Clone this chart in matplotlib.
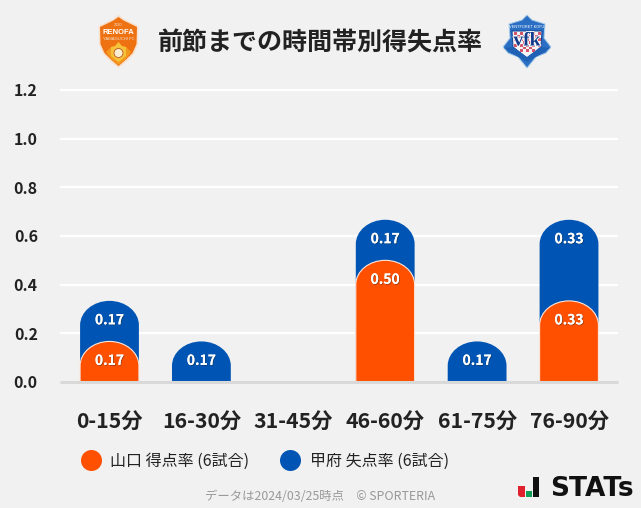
import matplotlib
matplotlib.use("Agg")
import matplotlib.pyplot as plt
import matplotlib.patheffects as pe
from matplotlib.patches import Circle, PathPatch, Polygon, Rectangle
from matplotlib.path import Path

plt.rcParams["font.family"] = ["Noto Sans CJK JP", "DejaVu Sans"]

BG = "#f1f1f1"
ORANGE = "#ff5000"
BLUE = "#0055b4"
DARK = "#222222"

CATEGORIES = ["0-15分", "16-30分", "31-45分", "46-60分", "61-75分", "76-90分"]
SCORED = [0.1667, 0, 0, 0.5, 0, 0.3333]
CONCEDED = [0.1667, 0.1667, 0, 0.1667, 0.1667, 0.3333]
Y_TICKS = [0.0, 0.2, 0.4, 0.6, 0.8, 1.0, 1.2]

TITLE = "前節までの時間帯別得失点率"
SCORED_LABEL = "山口 得点率 (6試合)"
CONCEDED_LABEL = "甲府 失点率 (6試合)"
FOOTER = "データは2024/03/25時点　© SPORTERIA"

W, H = 641, 508
BAR_W = 0.64
ARC_H = 0.1
K = 0.5523


def rounded_bar(ax, x, top, color, zorder, edge=None):
    # elliptical top corners, same shape as the site's bars
    rx = BAR_W / 2
    ry = ARC_H
    left, right = x - rx, x + rx
    verts = [
        (left, 0),
        (left, top - ry),
        (left, top - ry + K * ry),
        (x - K * rx, top),
        (x, top),
        (x + K * rx, top),
        (right, top - ry + K * ry),
        (right, top - ry),
        (right, 0),
        (left, 0),
    ]
    codes = [Path.MOVETO, Path.LINETO] + [Path.CURVE4] * 6 + [Path.LINETO, Path.CLOSEPOLY]
    ax.add_patch(PathPatch(Path(verts, codes), fc=color, ec=edge or color,
                           lw=0.8 if edge else 0, zorder=zorder))


def value_label(ax, x, top, value):
    ax.annotate(
        f"{value:.2f}", (x, top), xytext=(0, -14), textcoords="offset points",
        ha="center", va="center", color="white", fontsize=10, fontweight="bold",
        zorder=6,
        path_effects=[pe.withSimplePatchShadow(offset=(0.6, -0.6), shadow_rgbFace="#222222", alpha=0.45), pe.Normal()],
    )


def draw_logos(ov):
    # Renofa shield
    ov.add_patch(Polygon([(118.5, 15), (124, 19), (138.5, 26), (138, 44), (134, 54), (126, 62), (118.5, 68),
                          (111, 62), (103, 54), (99, 44), (98.5, 26), (113, 19)],
                         fc="#f9e0cc", ec="none", zorder=2))
    ov.add_patch(Polygon([(118.5, 17), (123.5, 20.5), (137, 27), (136.5, 44), (132.5, 53), (125, 60.5), (118.5, 66),
                          (112, 60.5), (104.5, 53), (100.5, 44), (100, 27), (113.5, 20.5)],
                         fc="#ee7212", ec="none", zorder=3))
    ov.add_patch(Polygon([(118.5, 65), (112, 60), (106, 52), (111, 47), (126, 47), (131, 52), (125, 60)],
                         fc="#f39a1e", ec="none", zorder=4))
    ov.add_patch(Polygon([(118.5, 42), (122, 46), (126, 47), (126, 56), (118.5, 62), (111, 56), (111, 47), (115, 46)],
                         fc="#f6c23a", ec="none", zorder=5))
    ov.add_patch(Circle((118.5, 53), 4.5, fc="#fbeed0", ec="#b8561a", lw=0.6, zorder=6))
    ov.text(118.5, 25.5, "2020", ha="center", va="center", fontsize=2.8,
            color="#fbe3cf", family=["Liberation Sans"], zorder=7)
    ov.text(118.5, 32.5, "RENOFA", ha="center", va="center", fontsize=5.5, fontweight="bold",
            color="white", family=["Liberation Sans"], zorder=7)
    ov.text(118.5, 38.5, "YAMAGUCHI FC", ha="center", va="center", fontsize=3,
            color="#fbe3cf", family=["Liberation Sans"], zorder=7)

    # Ventforet badge
    ov.add_patch(Polygon([(527, 15), (532, 20), (545, 24), (544, 38), (551, 47), (546, 53), (536, 57), (527, 68),
                          (518, 57), (508, 53), (503, 47), (510, 38), (509, 24), (522, 20)],
                         fc="#2a6fc4", ec="#a8cbe8", lw=0.7, zorder=2))
    ov.add_patch(Polygon([(512, 31), (542, 31), (541, 47), (527, 58), (513, 47)],
                         fc="#f4f4f4", ec="#123f8f", lw=0.7, zorder=3))
    for row in range(7):
        for col in range(9):
            if (row + col) % 2 == 0 and not (row > 4 and (col < 2 or col > 6)):
                ov.add_patch(Rectangle((513.5 + col * 3, 32 + row * 2.9), 3, 2.9,
                                       fc="#d4566c", ec="none", zorder=4))
    ov.add_patch(Polygon([(504, 48), (513, 47), (527, 57), (541, 47), (550, 48), (541, 54), (527, 62), (513, 54)],
                         fc="#1f62b5", ec="none", zorder=5))
    ov.text(527, 27.5, "VENTFORET KOFU", ha="center", va="center", fontsize=2.8,
            color="white", family=["Liberation Sans"], zorder=6)
    ov.text(527, 41, "vfk", ha="center", va="center", fontsize=14, fontweight="bold",
            color="#123a8a", family=["Liberation Serif"], zorder=6,
            path_effects=[pe.withStroke(linewidth=1.2, foreground="white")])


def draw_stats_logo(ov):
    ov.add_patch(Polygon([(518, 486), (525, 486), (525, 497), (520, 497), (518, 495)], fc="#e0202c", ec="none"))
    ov.add_patch(Rectangle((526, 491), 5.5, 6, fc="#0f9d58", ec="none"))
    ov.add_patch(Rectangle((533, 477), 6, 20, fc="#111111", ec="none"))
    ov.text(550, 489, "STATs", ha="left", va="center", fontsize=19, fontweight="bold",
            color="#111111", family=["DejaVu Sans"])


def main():
    fig = plt.figure(figsize=(W / 100, H / 100), dpi=100, facecolor=BG)

    left, right, top_px, bottom_px = 60, 618, 90, 382
    ax = fig.add_axes([left / W, 1 - bottom_px / H, (right - left) / W, (bottom_px - top_px) / H])
    ax.set_facecolor(BG)
    ax.set_ylim(0, 1.2)
    ax.set_xlim(-0.5386, 5.533)

    for tick in Y_TICKS[1:]:
        ax.axhline(tick, color="white", lw=1.6, zorder=1, clip_on=False, solid_capstyle="butt")
    ax.axhline(0, color="#d9d9d9", lw=2.2, zorder=7, clip_on=False, solid_capstyle="butt")

    for i, (scored, conceded) in enumerate(zip(SCORED, CONCEDED)):
        if conceded > 0:
            rounded_bar(ax, i, scored + conceded, BLUE, 3)
            value_label(ax, i, scored + conceded, conceded)
        if scored > 0:
            rounded_bar(ax, i, scored, ORANGE, 4, edge="#ffe6da")
            value_label(ax, i, scored, scored)

    ax.set_xticks(range(len(CATEGORIES)), CATEGORIES)
    ax.set_yticks(Y_TICKS, [f"{t:.1f}" for t in Y_TICKS])
    ax.tick_params(length=0)
    ax.tick_params(axis="x", pad=21.2, labelsize=15.3, labelcolor=DARK)
    ax.tick_params(axis="y", pad=16, labelsize=11.5, labelcolor=DARK)
    for lab in ax.get_xticklabels() + ax.get_yticklabels():
        lab.set_fontweight("bold")
    for lab in ax.get_yticklabels():
        lab.set_verticalalignment("center_baseline")
    for spine in ax.spines.values():
        spine.set_visible(False)

    # overlay in pixel coordinates for the header, legend and footer
    ov = fig.add_axes([0, 0, 1, 1], facecolor="none")
    ov.set_xlim(0, W)
    ov.set_ylim(H, 0)
    ov.axis("off")

    ov.text(320.5, 43, TITLE, ha="center", va="center", fontsize=18, fontweight="bold", color=DARK)
    draw_logos(ov)

    ov.add_patch(Circle((91.5, 460.5), 10.5, fc=ORANGE, ec="none"))
    ov.text(110, 461.5, SCORED_LABEL, ha="left", va="center", fontsize=11.5, color=DARK)
    ov.add_patch(Circle((290.5, 460.5), 10.5, fc=BLUE, ec="none"))
    ov.text(309.5, 461.5, CONCEDED_LABEL, ha="left", va="center", fontsize=11.5, color=DARK)

    ov.text(320.5, 497, FOOTER, ha="center", va="center", fontsize=8.9, color="#999999")
    draw_stats_logo(ov)

    fig.savefig("out.png", dpi=100, facecolor=BG)


if __name__ == "__main__":
    main()
